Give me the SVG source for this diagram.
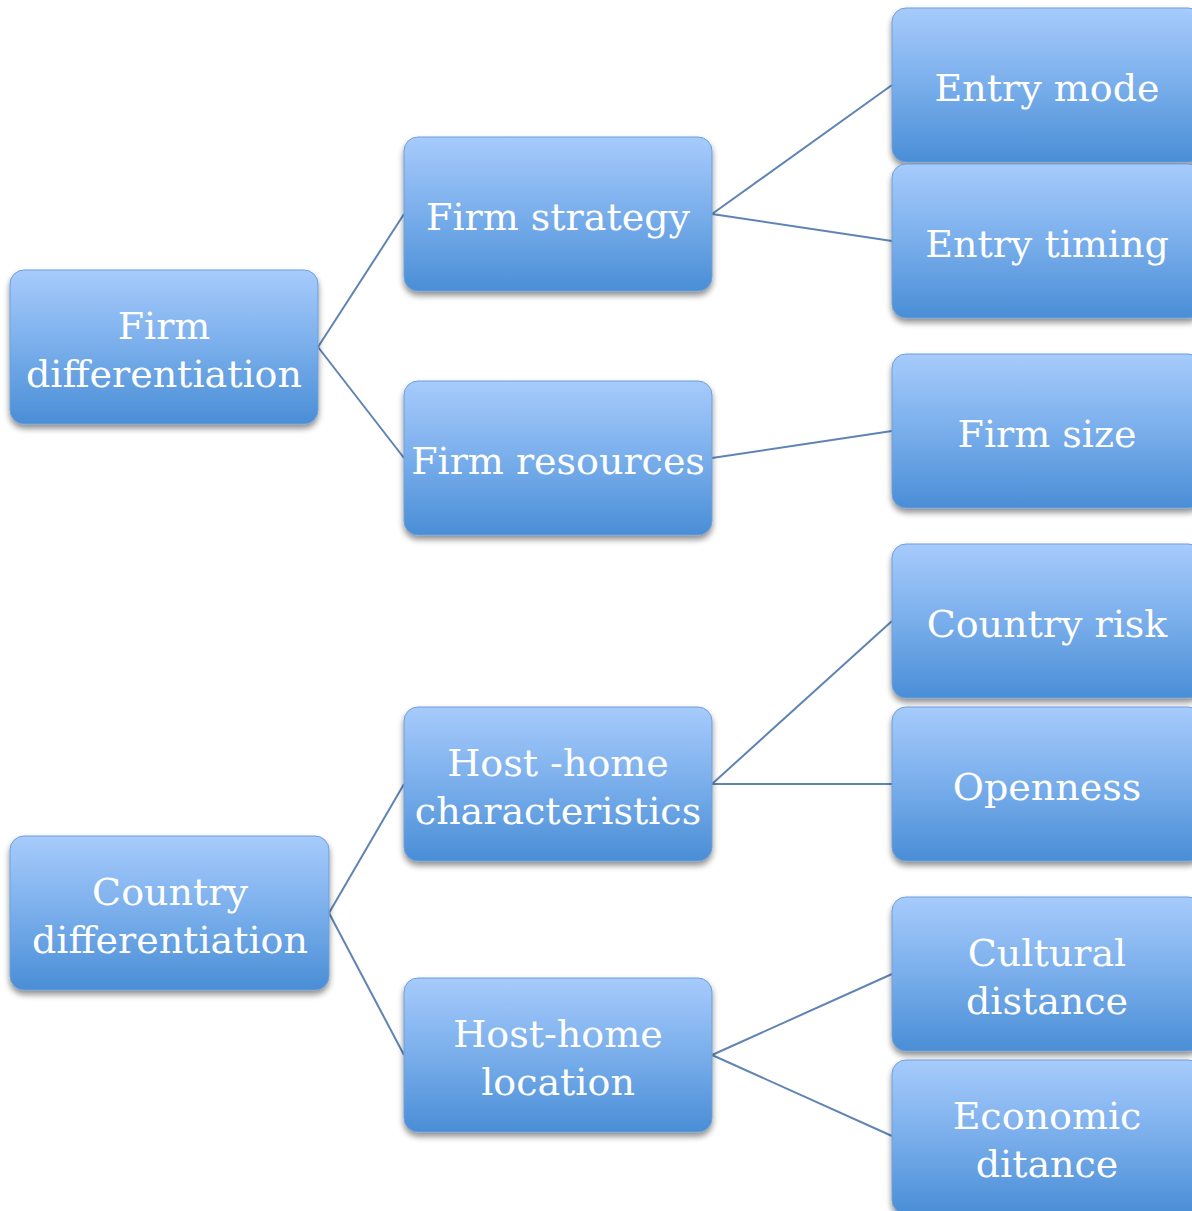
<svg xmlns="http://www.w3.org/2000/svg" width="1192" height="1211" viewBox="0 0 1192 1211">
  <defs>
    <linearGradient id="boxFill" x1="0" y1="0" x2="0" y2="1">
      <stop offset="0" stop-color="#a7cbfc"/>
      <stop offset="0.5" stop-color="#79aeeb"/>
      <stop offset="1" stop-color="#4a8ed6"/>
    </linearGradient>
    <filter id="shadow" x="-10%" y="-10%" width="120%" height="130%">
      <feGaussianBlur in="SourceAlpha" stdDeviation="3"/>
      <feOffset dx="0" dy="4" result="blur"/>
      <feComponentTransfer><feFuncA type="linear" slope="0.45"/></feComponentTransfer>
      <feMerge><feMergeNode/><feMergeNode in="SourceGraphic"/></feMerge>
    </filter>
  </defs>
  <style>
    .box { fill: url(#boxFill); stroke: #6f9fd8; stroke-width: 1; filter: url(#shadow); }
    .label { font-family: "DejaVu Serif", "Liberation Serif", serif; font-size: 38px; fill: #ffffff; text-anchor: middle; }
    .link { stroke: #5f84b4; stroke-width: 2; fill: none; }
  </style>
  <rect width="1192" height="1211" fill="#ffffff"/>

  <g id="connectors">
    <line class="link" x1="318" y1="347" x2="404" y2="214"/>
    <line class="link" x1="318" y1="347" x2="404" y2="458"/>
    <line class="link" x1="712" y1="214" x2="892" y2="85"/>
    <line class="link" x1="712" y1="214" x2="892" y2="241"/>
    <line class="link" x1="712" y1="458" x2="892" y2="431"/>
    <line class="link" x1="329" y1="913" x2="404" y2="784"/>
    <line class="link" x1="329" y1="913" x2="404" y2="1055"/>
    <line class="link" x1="712" y1="784" x2="892" y2="621"/>
    <line class="link" x1="712" y1="784" x2="892" y2="784"/>
    <line class="link" x1="712" y1="1055" x2="892" y2="974"/>
    <line class="link" x1="712" y1="1055" x2="892" y2="1136"/>
  </g>

  <g id="firm-differentiation">
    <rect class="box" x="10" y="270" width="308" height="154" rx="14"/>
    <text class="label" x="164" y="339">Firm</text>
    <text class="label" x="164" y="387">differentiation</text>
  </g>
  <g id="firm-strategy">
    <rect class="box" x="404" y="137" width="308" height="154" rx="14"/>
    <text class="label" x="558" y="230">Firm strategy</text>
  </g>
  <g id="firm-resources">
    <rect class="box" x="404" y="381" width="308" height="154" rx="14"/>
    <text class="label" x="558" y="474">Firm resources</text>
  </g>
  <g id="entry-mode">
    <rect class="box" x="892" y="8" width="310" height="154" rx="14"/>
    <text class="label" x="1047" y="101">Entry mode</text>
  </g>
  <g id="entry-timing">
    <rect class="box" x="892" y="164" width="310" height="154" rx="14"/>
    <text class="label" x="1047" y="257">Entry timing</text>
  </g>
  <g id="firm-size">
    <rect class="box" x="892" y="354" width="310" height="154" rx="14"/>
    <text class="label" x="1047" y="447">Firm size</text>
  </g>

  <g id="country-differentiation">
    <rect class="box" x="10" y="836" width="319" height="154" rx="14"/>
    <text class="label" x="170" y="905">Country</text>
    <text class="label" x="170" y="953">differentiation</text>
  </g>
  <g id="host-home-characteristics">
    <rect class="box" x="404" y="707" width="308" height="154" rx="14"/>
    <text class="label" x="558" y="776">Host -home</text>
    <text class="label" x="558" y="824">characteristics</text>
  </g>
  <g id="host-home-location">
    <rect class="box" x="404" y="978" width="308" height="154" rx="14"/>
    <text class="label" x="558" y="1047">Host-home</text>
    <text class="label" x="558" y="1095">location</text>
  </g>
  <g id="country-risk">
    <rect class="box" x="892" y="544" width="310" height="154" rx="14"/>
    <text class="label" x="1047" y="637">Country risk</text>
  </g>
  <g id="openness">
    <rect class="box" x="892" y="707" width="310" height="154" rx="14"/>
    <text class="label" x="1047" y="800">Openness</text>
  </g>
  <g id="cultural-distance">
    <rect class="box" x="892" y="897" width="310" height="154" rx="14"/>
    <text class="label" x="1047" y="966">Cultural</text>
    <text class="label" x="1047" y="1014">distance</text>
  </g>
  <g id="economic-ditance">
    <rect class="box" x="892" y="1060" width="310" height="154" rx="14"/>
    <text class="label" x="1047" y="1129">Economic</text>
    <text class="label" x="1047" y="1177">ditance</text>
  </g>
</svg>
